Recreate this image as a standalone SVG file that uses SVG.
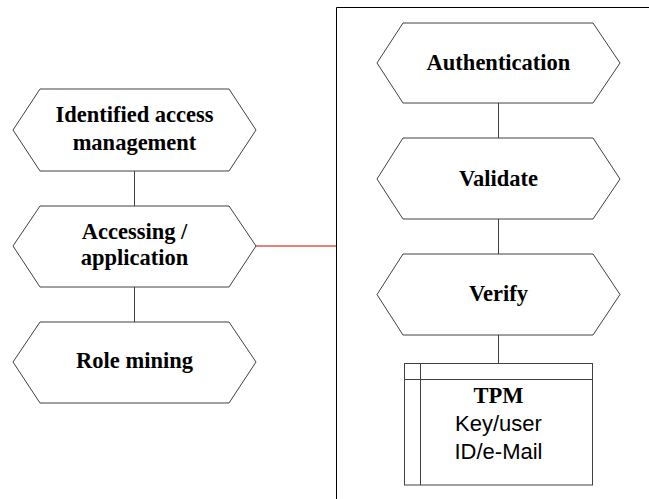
<svg xmlns="http://www.w3.org/2000/svg" width="649" height="499" viewBox="0 0 649 499">
<style>
.hex{fill:#fff;stroke:#404040;stroke-width:1}
.t{font-family:"Liberation Serif",serif;font-weight:bold;font-size:22.5px;fill:#000;text-anchor:middle}
.s{font-family:"Liberation Sans",sans-serif;font-size:22px;fill:#000;text-anchor:middle}
.c{stroke:#404040;stroke-width:1;fill:none}
</style>
<rect width="649" height="499" fill="#fff"/>
<g id="container"><path d="M336.5,499 V7.5 H649" fill="none" stroke="#000" stroke-width="1"/></g>
<g id="connectors">
<line class="c" x1="134.5" y1="171" x2="134.5" y2="206"/>
<line class="c" x1="134.5" y1="287" x2="134.5" y2="322"/>
<line x1="256" y1="246" x2="336" y2="246" stroke="#d40000" stroke-width="1.2"/>
<line class="c" x1="498.5" y1="103" x2="498.5" y2="138"/>
<line class="c" x1="498.5" y1="219" x2="498.5" y2="254"/>
<line class="c" x1="498.5" y1="335" x2="498.5" y2="363"/>
</g>
<g id="identified">
<polygon class="hex" points="13,130 40,89 229,89 256,130 229,171 40,171"/>
<text class="t" x="134.5" y="122">Identified access</text>
<text class="t" x="134.5" y="150">management</text>
</g>
<g id="accessing">
<polygon class="hex" points="13,246 40,206 229,206 256,246 229,287 40,287"/>
<text class="t" x="134.5" y="239">Accessing /</text>
<text class="t" x="134.5" y="265">application</text>
</g>
<g id="role">
<polygon class="hex" points="13,362 40,322 229,322 256,362 229,403 40,403"/>
<text class="t" x="134.5" y="368">Role mining</text>
</g>
<g id="authentication">
<polygon class="hex" points="377,63 403,23 593,23 620,63 593,103 403,103"/>
<text class="t" x="498.5" y="70">Authentication</text>
</g>
<g id="validate">
<polygon class="hex" points="377,179 403,138 593,138 620,179 593,219 403,219"/>
<text class="t" x="498.5" y="186">Validate</text>
</g>
<g id="verify">
<polygon class="hex" points="377,294.5 403,254 593,254 620,294.5 593,335 403,335"/>
<text class="t" x="498.5" y="301">Verify</text>
</g>
<g id="tpm">
<rect x="404.5" y="363.5" width="188" height="121.5" fill="#fff" stroke="#404040"/>
<line class="c" x1="420.5" y1="363.5" x2="420.5" y2="485"/>
<line class="c" x1="404.5" y1="379.5" x2="592.5" y2="379.5"/>
<text class="t" x="498.5" y="403">TPM</text>
<text class="s" x="498.5" y="431">Key/user</text>
<text class="s" x="498.5" y="459">ID/e-Mail</text>
</g>
</svg>
